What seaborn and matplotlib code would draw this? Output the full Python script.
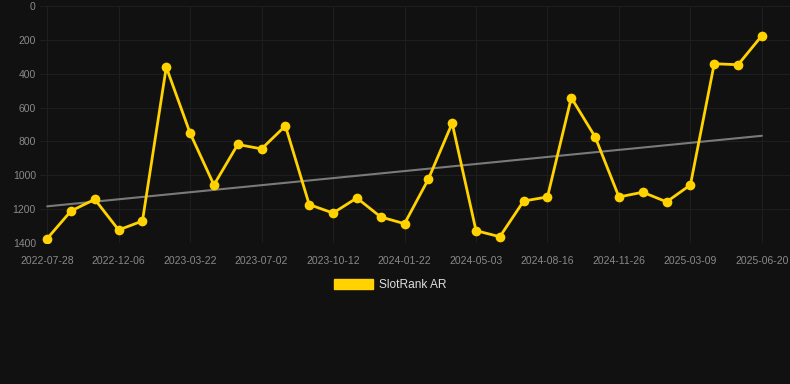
import numpy as np
import pandas as pd
import matplotlib
matplotlib.use("Agg")
import matplotlib.pyplot as plt
import seaborn as sns
from matplotlib.patches import Patch

# --- data ---
ranks = [1374, 1211, 1142, 1323, 1270, 361, 751, 1057, 818, 844, 708,
         1173, 1223, 1134, 1246, 1286, 1023, 692, 1327, 1363, 1152, 1128,
         542, 773, 1128, 1100, 1157, 1057, 341, 347, 175]
tick_labels = ["2022-07-28", "2022-12-06", "2023-03-22", "2023-07-02",
               "2023-10-12", "2024-01-22", "2024-05-03", "2024-08-16",
               "2024-11-26", "2025-03-09", "2025-06-20"]
y_ticks = [0, 200, 400, 600, 800, 1000, 1200, 1400]
series_name = "SlotRank AR"

BG = "#111111"
YELLOW = "#FFD200"
GRID = "#1e1e1e"
TICK = "#8a8a8a"

sns.set_theme(style="dark")
plt.rcParams["font.family"] = ["Liberation Sans", "DejaVu Sans"]

df = pd.DataFrame({"idx": np.arange(len(ranks)), "rank": ranks})

fig = plt.figure(figsize=(7.9, 3.84), dpi=100, facecolor=BG)
ax = fig.add_axes([40 / 790, 141 / 384, 750 / 790, 237 / 384])
ax.set_facecolor(BG)

# trend line (linear fit)
coef = np.polyfit(df["idx"], df["rank"], 1)
trend = np.polyval(coef, df["idx"])
sns.lineplot(x=df["idx"], y=trend, ax=ax, color="#7a7a7a", linewidth=1.5, zorder=2)

sns.lineplot(data=df, x="idx", y="rank", ax=ax, color=YELLOW, linewidth=2.0,
             marker="o", markersize=7, markeredgewidth=0, zorder=3)

ax.set_xlim(-0.3, len(ranks) - 1 + 1.18)
ax.set_ylim(1400, 0)
ax.set_yticks(y_ticks)
ax.set_yticklabels([str(v) for v in y_ticks])
tick_pos = list(range(0, len(ranks), 3))
ax.set_xticks(tick_pos)
ax.set_xticklabels(tick_labels)
ax.tick_params(axis="both", colors=TICK, labelsize=7.5, length=0)
ax.tick_params(axis="x", pad=9)
ax.tick_params(axis="y", pad=3)
ax.grid(True, color=GRID, linewidth=0.8)
for s in ax.spines.values():
    s.set_visible(False)
ax.set_xlabel("")
ax.set_ylabel("")

handle = Patch(facecolor=YELLOW, edgecolor=YELLOW)
fig.legend([handle], [series_name], loc="center", bbox_to_anchor=(390 / 790, 1 - 285 / 384),
           frameon=False, fontsize=8.6, labelcolor="#dddddd",
           handlelength=3.3, handleheight=0.9, handletextpad=0.5)

fig.savefig("out.png", dpi=100, facecolor=BG)
